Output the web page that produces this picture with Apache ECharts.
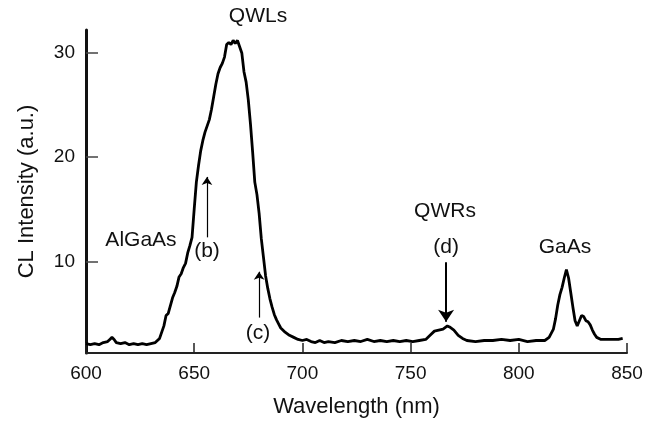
<!DOCTYPE html>
<html>
<head>
<meta charset="utf-8">
<script src="https://cdn.jsdelivr.net/npm/echarts@6/dist/echarts.min.js"></script>
<style>
  html, body { margin: 0; padding: 0; background: #fff; }
  #chart { width: 657px; height: 423px; }
</style>
</head>
<body>
<div id="chart"></div>
<script>
// CL spectrum
const wavelength = [
    600, 602, 604, 606, 608, 610, 611, 612, 613, 614, 616, 618, 620, 622, 624, 626, 628, 630, 632,
    634, 636, 637, 638, 640, 641, 642, 643, 644, 645, 646, 647, 648, 649, 650, 651, 652, 653, 654,
    655, 656, 657, 658, 659, 660, 661, 662, 663, 664, 665, 666, 667, 668, 669, 670, 671, 672, 673,
    674, 675, 676, 677, 678, 679, 680, 681, 682, 683, 684, 685, 686, 687, 688, 689, 690, 692, 694,
    696, 698, 700, 702, 704, 706, 708, 710, 712, 715, 718, 721, 724, 727, 730, 733, 736, 739, 742,
    745, 748, 751, 754, 757, 759, 761, 763, 765, 767, 768, 770, 772, 774, 776, 780, 784, 788, 792,
    796, 800, 804, 808, 812, 814, 816, 817, 818, 819, 820, 821, 822, 823, 824, 825, 826, 827, 828,
    829, 830, 831, 832, 833, 834, 835, 836, 838, 842, 846, 848
];
const intensity = [
    2.1, 2.0, 2.1, 2.0, 2.2, 2.3, 2.5, 2.7, 2.5, 2.2, 2.1, 2.2, 2.0, 2.1, 2.0, 2.1, 2.0, 2.1, 2.2,
    2.6, 3.8, 4.8, 5.0, 6.5, 7.0, 7.6, 8.5, 8.8, 9.4, 9.8, 10.8, 11.5, 12.3, 15.0, 17.6, 19.2, 20.6, 21.6,
    22.4, 23.0, 23.6, 24.6, 25.8, 27.0, 28.0, 28.6, 29.0, 29.6, 30.8, 31.0, 30.8, 31.2, 30.9, 31.2, 30.6, 30.0, 28.2,
    27.2, 25.5, 23.2, 20.5, 17.6, 16.4, 14.6, 12.2, 10.4, 8.6, 7.4, 6.4, 5.6, 4.9, 4.4, 4.0, 3.6, 3.2, 2.9,
    2.7, 2.5, 2.4, 2.5, 2.3, 2.2, 2.4, 2.2, 2.3, 2.2, 2.4, 2.3, 2.4, 2.3, 2.5, 2.3, 2.4, 2.3, 2.4,
    2.3, 2.4, 2.3, 2.4, 2.5, 2.9, 3.3, 3.4, 3.5, 3.8, 3.7, 3.4, 2.9, 2.6, 2.4, 2.3, 2.4, 2.4, 2.5,
    2.4, 2.5, 2.3, 2.4, 2.4, 2.7, 3.5, 4.5, 5.8, 6.8, 7.5, 8.4, 9.2, 8.4, 7.0, 5.6, 4.3, 3.8, 4.3,
    4.8, 4.7, 4.3, 4.2, 3.9, 3.4, 3.0, 2.7, 2.5, 2.5, 2.5, 2.6
];
const yTickValues = [10, 20, 30];

// annotation labels: [text, wavelength, intensity]
const labels = [
    ['QWLs', 679.5, 33.5],
    ['AlGaAs', 625.4, 12.0],
    ['(b)', 655.9, 11.0],
    ['(c)', 679.5, 3.1],
    ['QWRs', 765.9, 14.8],
    ['(d)', 766.4, 11.4],
    ['GaAs', 821.3, 11.4]
];
// arrows: [wavelength, from intensity, to intensity, width, head size]
const arrows = [
    [655.9, 12.3, 18.1, 1.2, 8],
    [680.0, 4.6, 9.0, 1.2, 8],
    [766.4, 9.9, 4.2, 2, 12]
];

const FONT = '"Liberation Sans", Arial, sans-serif';
const chart = echarts.init(document.getElementById('chart'), null, { renderer: 'canvas' });

const option = {
    animation: false,
    grid: { left: 86, right: 30, top: 30, bottom: 69 },
    xAxis: {
        type: 'value',
        min: 600,
        max: 850,
        interval: 50,
        name: 'Wavelength (nm)',
        nameLocation: 'middle',
        nameGap: 43,
        nameTextStyle: { fontFamily: FONT, fontSize: 22, color: '#111' },
        axisLine: { show: true, onZero: false, lineStyle: { color: '#222', width: 2 } },
        axisTick: { show: true, inside: true, length: 10, lineStyle: { color: '#222', width: 1.5 } },
        axisLabel: { fontFamily: FONT, fontSize: 19, color: '#111', margin: 11 },
        splitLine: { show: false }
    },
    yAxis: {
        type: 'value',
        min: 1.2,
        max: 32.2,
        name: 'CL Intensity (a.u.)',
        nameLocation: 'middle',
        nameGap: 48,
        nameTextStyle: { fontFamily: FONT, fontSize: 22, color: '#111' },
        axisLine: { show: true, onZero: false, lineStyle: { color: '#111', width: 3 } },
        axisTick: { show: true, inside: true, length: 12, customValues: yTickValues,
            lineStyle: { color: '#444', width: 1.5 } },
        axisLabel: { fontFamily: FONT, fontSize: 19, color: '#111', margin: 11, customValues: yTickValues },
        splitLine: { show: false }
    },
    series: [{
        type: 'line',
        data: wavelength.map((w, i) => [w, intensity[i]]),
        showSymbol: false,
        lineStyle: { color: '#000', width: 2.8 },
        markLine: {
            silent: true,
            animation: false,
            label: { show: false },
            emphasis: { disabled: true },
            data: arrows.map(a => [
                { coord: [a[0], a[1]], symbol: 'none', lineStyle: { color: '#000', width: a[3], type: 'solid' } },
                { coord: [a[0], a[2]], symbol: 'arrow', symbolSize: a[4] }
            ])
        }
    }]
};
chart.setOption(option);

// place the text labels in data coordinates
chart.setOption({
    graphic: labels.map(l => {
        const p = chart.convertToPixel({ gridIndex: 0 }, [l[1], l[2]]);
        return {
            type: 'text',
            x: p[0],
            y: p[1],
            style: {
                text: l[0],
                fontFamily: FONT,
                fontSize: 21,
                fill: '#111',
                textAlign: 'center',
                textVerticalAlign: 'middle'
            }
        };
    })
});
</script>
</body>
</html>
